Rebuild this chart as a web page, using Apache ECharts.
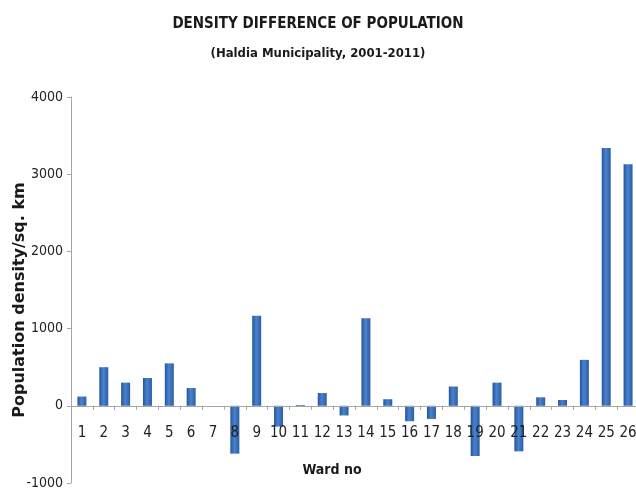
<!DOCTYPE html>
<html>
<head>
<meta charset="utf-8">
<script src="https://cdn.jsdelivr.net/npm/echarts@6/dist/echarts.min.js"></script>
<style>html,body{margin:0;padding:0;background:#fff;}#c{width:636px;height:491px;}</style>
</head>
<body>
<div id="c"></div>
<script>
var wards = ['1','2','3','4','5','6','7','8','9','10','11','12','13','14','15','16','17','18','19','20','21','22','23','24','25','26'];
var densityDiff = [120, 500, 300, 360, 550, 230, 0, -620, 1165, -270, 10, 165, -125, 1135, 85, -200, -170, 250, -650, 300, -590, 110, 75, 595, 3340, 3130];
var yTicks = [-1000, 0, 1000, 2000, 3000, 4000];

var chart = echarts.init(document.getElementById('c'), null, {renderer: 'canvas'});
var narrow = '"Liberation Sans Narrow","DejaVu Sans Condensed","Roboto Condensed",sans-serif';
var gridTop = 97, gridHeight = 386;
var zeroOffset = -gridHeight * (0 - yTicks[0]) / (yTicks[yTicks.length - 1] - yTicks[0]);
chart.setOption({
  animation: false,
  backgroundColor: '#ffffff',
  title: [
    {text: 'DENSITY DIFFERENCE OF POPULATION', left: 'center', top: 12,
     textStyle: {fontFamily: narrow, fontWeight: 'bold', fontSize: 15, color: '#1a1a1a'}},
    {text: '(Haldia Municipality, 2001-2011)', left: 'center', top: 42,
     textStyle: {fontFamily: narrow, fontWeight: 'bold', fontSize: 13, color: '#1a1a1a'}}
  ],
  grid: {left: 71, top: gridTop, width: 568, height: gridHeight, containLabel: false, outerBoundsMode: 'none'},
  xAxis: {
    type: 'category',
    data: wards,
    position: 'bottom',
    offset: zeroOffset,
    z: 5,
    axisLine: {onZero: false, lineStyle: {color: '#a6a6a6', width: 1}},
    axisTick: {show: true, length: 4, lineStyle: {color: '#a6a6a6'}},
    axisLabel: {show: true, interval: 0, margin: 20, fontFamily: narrow, fontSize: 15, color: '#222'},
    name: 'Ward no', nameLocation: 'middle', nameGap: 58, nameMoveOverlap: false,
    nameTextStyle: {fontFamily: narrow, fontWeight: 'bold', fontSize: 14, color: '#1a1a1a', padding: [0, 46, 0, 0]}
  },
  yAxis: {
    type: 'value',
    min: yTicks[0], max: yTicks[yTicks.length - 1], interval: 1000,
    axisLine: {show: true, lineStyle: {color: '#a6a6a6'}},
    axisTick: {show: true, length: 4, lineStyle: {color: '#a6a6a6'}},
    splitLine: {show: false},
    axisLabel: {margin: 8, fontFamily: narrow, fontSize: 14, color: '#222', formatter: function (v) { return String(v); }},
    name: 'Population density/sq. km', nameLocation: 'middle', nameGap: 43, nameMoveOverlap: false,
    nameTextStyle: {fontFamily: '"DejaVu Sans",sans-serif', fontWeight: 'bold', fontSize: 16, color: '#1a1a1a', padding: [0, 20, 0, 0]}
  },
  series: [{
    type: 'bar',
    data: densityDiff,
    barWidth: 9,
    itemStyle: {
      color: new echarts.graphic.LinearGradient(0, 0, 1, 0, [
        {offset: 0, color: '#24559c'},
        {offset: 0.45, color: '#4a82cc'},
        {offset: 1, color: '#2a5ea6'}
      ])
    }
  }]
});
</script>
</body>
</html>
